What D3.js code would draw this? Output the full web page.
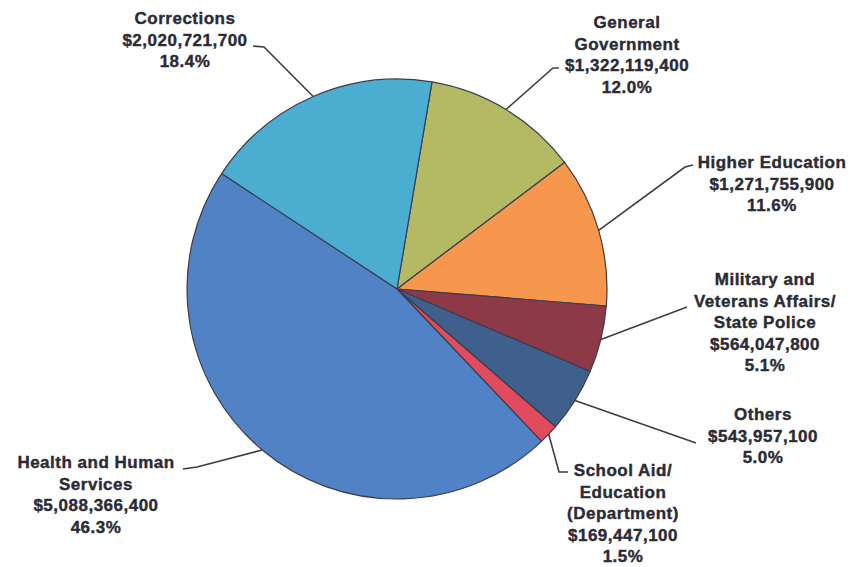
<!DOCTYPE html>
<html>
<head>
<meta charset="utf-8">
<script src="https://cdn.jsdelivr.net/npm/d3@7"></script>
<style>
  body { margin: 0; background: #fff; }
  svg text { font-family: "Liberation Sans", Arial, sans-serif; font-weight: bold; fill: #2b2b36; }
</style>
</head>
<body>
<div id="chart"></div>
<script>
// slices in clockwise order, starting just right of 12 o'clock
const categories = [
  'General Government',
  'Higher Education',
  'Military and Veterans Affairs/State Police',
  'Others',
  'School Aid/Education (Department)',
  'Health and Human Services',
  'Corrections'
];
const amounts = [1322119400, 1271755900, 564047800, 543957100, 169447100, 5088366400, 2020721700];
const percents = ['12.0%', '11.6%', '5.1%', '5.0%', '1.5%', '46.3%', '18.4%'];
const labelLines = [
  ['General', 'Government'],
  ['Higher Education'],
  ['Military and', 'Veterans Affairs/', 'State Police'],
  ['Others'],
  ['School Aid/', 'Education', '(Department)'],
  ['Health and Human', 'Services'],
  ['Corrections']
];
const colors = ['#b4ba64', '#f7964d', '#8d3947', '#3f5f8d', '#e04c5d', '#5282c6', '#4badd0'];

// label placement: text centre + first baseline, leader bend and end
const layout = [
  { x: 627, y: 28, bend: [553, 68], end: [559, 68] },
  { x: 772, y: 168, bend: [685, 167], end: [693, 165] },
  { x: 765, y: 285, bend: [687, 307], end: [687, 307] },
  { x: 763, y: 420, bend: [696, 443], end: [696, 443] },
  { x: 623, y: 476, bend: [559, 472], end: [568, 472] },
  { x: 96, y: 468, bend: [197, 467], end: [183, 469] },
  { x: 185, y: 24, bend: [264, 47], end: [253, 46] }
];

const width = 856, height = 567;
const cx = 397, cy = 289, radius = 210;
const lineH = 21.6;

const fmt = d3.format(',');

const svg = d3.select('#chart').append('svg')
  .attr('width', width)
  .attr('height', height);

const g = svg.append('g')
  .attr('transform', `translate(${cx},${cy})`);

const pie = d3.pie()
  .sort(null)
  .value(d => d)
  .startAngle(9.6 * Math.PI / 180)
  .endAngle(9.6 * Math.PI / 180 + 2 * Math.PI);

const arcs = pie(amounts);

const arc = d3.arc().innerRadius(0).outerRadius(radius);
const edge = d3.arc().innerRadius(radius).outerRadius(radius);

g.selectAll('path.slice')
  .data(arcs)
  .enter().append('path')
  .attr('class', 'slice')
  .attr('d', arc)
  .attr('fill', (d, i) => colors[i])
  .attr('stroke', '#3c3d4c')
  .attr('stroke-width', 1.2)
  .attr('stroke-linejoin', 'round');

// leader lines
svg.selectAll('polyline.leader')
  .data(arcs)
  .enter().append('polyline')
  .attr('class', 'leader')
  .attr('fill', 'none')
  .attr('stroke', '#3d3d45')
  .attr('stroke-width', 1.6)
  .attr('points', (d, i) => {
    const c = edge.centroid(d);
    const L = layout[i];
    return [[c[0] + cx, c[1] + cy], L.bend, L.end].map(p => p.join(',')).join(' ');
  });

// labels
arcs.forEach((d, i) => {
  const L = layout[i];
  const lines = labelLines[i].concat(['$' + fmt(amounts[i]), percents[i]]);
  const t = svg.append('text')
    .attr('text-anchor', 'middle')
    .attr('font-size', 17)
    .attr('letter-spacing', 0.5)
    .attr('stroke', '#2b2b36')
    .attr('stroke-width', 0.4);
  lines.forEach((s, k) => {
    t.append('tspan')
      .attr('x', L.x)
      .attr('y', L.y + k * lineH)
      .text(s);
  });
});
</script>
</body>
</html>
